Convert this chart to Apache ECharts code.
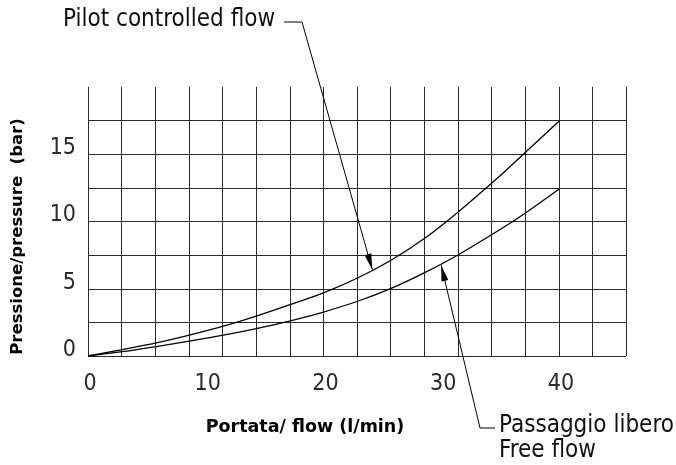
<!DOCTYPE html>
<html>
<head>
<meta charset="utf-8">
<script src="https://cdn.jsdelivr.net/npm/echarts@6/dist/echarts.min.js"></script>
<style>
  html, body { margin: 0; padding: 0; background: #fff; }
</style>
</head>
<body>
<div id="main" style="width:676px;height:465px;"></div>
<script>
var flowX  = [0, 2.9, 5.8, 8.6, 11.5, 14.3, 17.1, 20, 22.9, 25.7, 28.6, 31.5, 35, 37.1, 40];
var pilotP = [0, 0.48, 0.97, 1.55, 2.22, 2.97, 3.8, 4.7, 5.8, 7.1, 8.75, 10.75, 13.4, 15.1, 17.45];
var freeP  = [0, 0.32, 0.7, 1.1, 1.55, 2.04, 2.6, 3.27, 4.07, 5.01, 6.2, 7.55, 9.4, 10.6, 12.4];

// axis labels
var flowLabels = [0, 10, 20, 30, 40];
var pressLabels = [0, 5, 10, 15];

// where the leader arrows point (flow, pressure)
var pilotTip = [24.15, 6.42];
var freeTip = [30, 6.75];

var numFont = "'DejaVu Sans Condensed', 'Liberation Sans Narrow', sans-serif";

function pairs(xs, ys) {
  var out = [];
  for (var i = 0; i < xs.length; i++) out.push([xs[i], ys[i]]);
  return out;
}

var chartDom = document.getElementById('main');
var myChart = echarts.init(chartDom);
var option;

option = {
  backgroundColor: '#ffffff',
  animation: false,
  grid: { left: 88, right: 50, top: 87, bottom: 109 },
  xAxis: [
    {
      // labelled flow axis
      type: 'value',
      min: 0,
      max: 45.7,
      interval: 10,
      position: 'bottom',
      axisLine: { show: false },
      axisTick: { show: false },
      splitLine: { show: false },
      axisLabel: {
        showMaxLabel: false,
        margin: 17,
        padding: [0, 0, 0, 4],
        color: '#2a2a2a',
        fontSize: 23,
        fontFamily: numFont,
        formatter: function (v) {
          return flowLabels.indexOf(v) >= 0 ? String(v) : '';
        }
      },
      name: 'Portata/ flow (l/min)',
      nameLocation: 'middle',
      nameGap: 62,
      nameTextStyle: {
        fontFamily: 'DejaVu Sans',
        fontWeight: 'bold',
        fontSize: 17.5,
        color: '#000',
        padding: [0, 104, 0, 0]
      }
    },
    {
      // only the 16 vertical grid columns
      type: 'value',
      min: 0,
      max: 16,
      interval: 1,
      position: 'top',
      axisLine: { show: false },
      axisTick: { show: false },
      axisLabel: { show: false },
      splitLine: { show: true, lineStyle: { color: '#2b2b2b', width: 1 } }
    }
  ],
  yAxis: {
    type: 'value',
    min: 0,
    max: 20,
    interval: 2.5,
    axisLine: { show: false },
    axisTick: { show: false },
    splitLine: {
      show: true,
      showMaxLine: false,
      lineStyle: { color: '#2b2b2b', width: 1 }
    },
    axisLabel: {
      showMaxLabel: false,
      margin: 12,
      verticalAlign: 'bottom',
      lineHeight: 12,
      color: '#2a2a2a',
      fontSize: 23,
      fontFamily: numFont,
      formatter: function (v) {
        return pressLabels.indexOf(v) >= 0 ? String(v) : '';
      }
    },
    name: 'Pressione/pressure  (bar)',
    nameLocation: 'middle',
    nameGap: 62,
    nameTextStyle: {
      fontFamily: 'DejaVu Sans',
      fontWeight: 'bold',
      fontSize: 16.5,
      color: '#000',
      padding: [0, 30, 0, 0]
    }
  },
  series: [
    {
      name: 'Pilot controlled flow',
      type: 'line',
      xAxisIndex: 0,
      smooth: 0.3,
      symbol: 'none',
      clip: false,
      lineStyle: { color: '#000', width: 1.3 },
      data: pairs(flowX, pilotP)
    },
    {
      name: 'Passaggio libero',
      type: 'line',
      xAxisIndex: 0,
      smooth: 0.3,
      symbol: 'none',
      clip: false,
      lineStyle: { color: '#000', width: 1.3 },
      data: pairs(flowX, freeP)
    }
  ]
};

option && myChart.setOption(option);

// leader lines with arrow heads, placed from the data tips
function arrowHead(tip, from) {
  var dx = tip[0] - from[0], dy = tip[1] - from[1];
  var len = Math.sqrt(dx * dx + dy * dy);
  var ux = dx / len, uy = dy / len;
  var L = 16, W = 3.5;
  var bx = tip[0] - ux * L, by = tip[1] - uy * L;
  return [[tip[0], tip[1]], [bx - uy * W, by + ux * W], [bx + uy * W, by - ux * W]];
}

var p1 = myChart.convertToPixel({ xAxisIndex: 0, yAxisIndex: 0 }, pilotTip);
var p2 = myChart.convertToPixel({ xAxisIndex: 0, yAxisIndex: 0 }, freeTip);
var c1 = [302, 22];   // corner of the top leader
var c2 = [480, 428];  // corner of the bottom leader
var leaderStyle = { stroke: '#000', lineWidth: 1, fill: null };
var textStyle = { fill: '#111', fontSize: 24, fontFamily: numFont };

myChart.setOption({
  graphic: [
    {
      type: 'polyline',
      shape: { points: [[284, 22], c1, p1] },
      style: leaderStyle
    },
    {
      type: 'polygon',
      shape: { points: arrowHead(p1, c1) },
      style: { fill: '#000' }
    },
    {
      type: 'text',
      left: 63,
      top: 8,
      style: Object.assign({ text: 'Pilot controlled flow' }, textStyle)
    },
    {
      type: 'polyline',
      shape: { points: [[495, 428], c2, p2] },
      style: leaderStyle
    },
    {
      type: 'polygon',
      shape: { points: arrowHead(p2, c2) },
      style: { fill: '#000' }
    },
    {
      type: 'text',
      left: 499,
      top: 414,
      style: Object.assign({ text: 'Passaggio libero' }, textStyle)
    },
    {
      type: 'text',
      left: 499,
      top: 439,
      style: Object.assign({ text: 'Free flow' }, textStyle)
    }
  ]
});
</script>
</body>
</html>
